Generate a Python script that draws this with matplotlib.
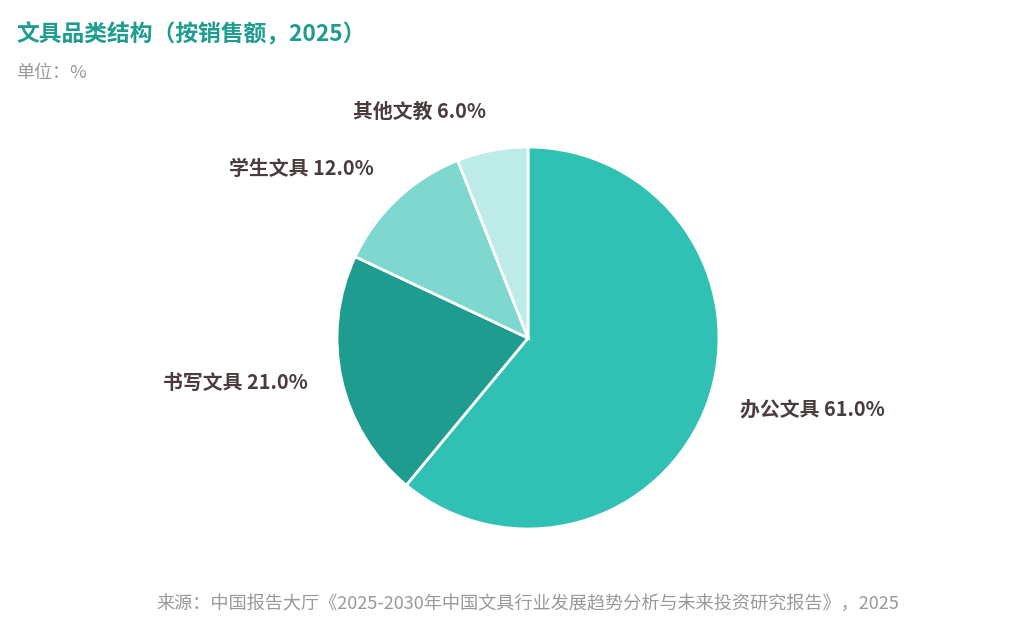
import matplotlib
matplotlib.use('Agg')
import matplotlib.pyplot as plt

plt.rcParams['font.family'] = ['Noto Sans CJK SC', 'DejaVu Sans']

categories = ['办公文具', '书写文具', '学生文具', '其他文教']
shares = [61.0, 21.0, 12.0, 6.0]
colors = ['#31C1B4', '#1E9C90', '#7FD8CF', '#BDEBE7']

title = '文具品类结构（按销售额，2025）'
unit = '单位：%'
source = '来源：中国报告大厅《2025-2030年中国文具行业发展趋势分析与未来投资研究报告》，2025'

fig = plt.figure(figsize=(10.09, 6.18), dpi=100)
cx, cy, r = 528, 338, 191
ax = fig.add_axes([(cx - r) / 1009, (618 - cy - r) / 618, 2 * r / 1009, 2 * r / 618])

labels = [f'{c} {v:.1f}%' for c, v in zip(categories, shares)]
wedges, texts = ax.pie(shares, labels=labels, colors=colors, startangle=90,
                       counterclock=False, labeldistance=1.18,
                       wedgeprops={'edgecolor': 'white', 'linewidth': 2},
                       textprops={'fontsize': 14.3, 'fontweight': 'bold', 'color': '#4A3C3C'})
# nudge labels up a little (CJK font sits low)
for t in texts:
    x, y = t.get_position()
    t.set_position((x, y + 5 / r))
ax.set_xlim(-1, 1)
ax.set_ylim(-1, 1)
ax.set_aspect('equal')

fig.text(16 / 1009, 1 - 35 / 618, title, fontsize=16.4, fontweight='bold',
         color='#1E9C90', va='center', ha='left')
fig.text(16 / 1009, 1 - 73 / 618, unit, fontsize=13, color='#999999',
         va='center', ha='left')
fig.text(528 / 1009, 1 - 604 / 618, source, fontsize=13.1, color='#999999',
         va='center', ha='center')

fig.savefig('out.png', dpi=100)
